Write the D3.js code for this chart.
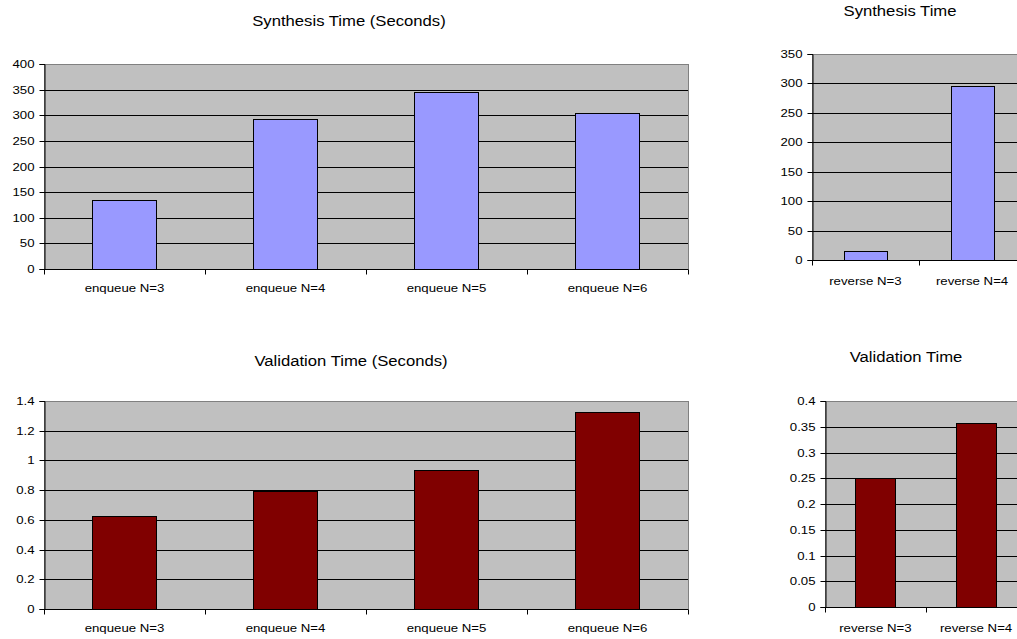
<!DOCTYPE html>
<html>
<head>
<meta charset="utf-8">
<script src="https://cdn.jsdelivr.net/npm/d3@7/dist/d3.min.js"></script>
<style>
  html, body { margin: 0; padding: 0; background: #ffffff; }
  svg { display: block; }
  text { font-family: "Liberation Sans", Arial, sans-serif; fill: #000; }
</style>
</head>
<body>
<svg id="chart" width="1017" height="639"></svg>
<script>
// Queue benchmarks: enqueue at N=3..6
const enqueueCategories = ["enqueue N=3", "enqueue N=4", "enqueue N=5", "enqueue N=6"];
const enqueueSynthesis = [134, 293, 345, 304];
const enqueueValidation = [0.627, 0.795, 0.938, 1.328];

// List benchmarks: reverse at N=3..4
const reverseCategories = ["reverse N=3", "reverse N=4"];
const reverseSynthesis = [15, 296];
const reverseValidation = [0.25, 0.358];

// Y-axis tick labels
const enqueueSynthesisTicks = [0, 50, 100, 150, 200, 250, 300, 350, 400];
const enqueueValidationTicks = [0, 0.2, 0.4, 0.6, 0.8, 1, 1.2, 1.4];
const reverseSynthesisTicks = [0, 50, 100, 150, 200, 250, 300, 350];
const reverseValidationTicks = [0, 0.05, 0.1, 0.15, 0.2, 0.25, 0.3, 0.35, 0.4];

const svg = d3.select("#chart");
const SX = 1.15; // horizontal text stretch

function stretchedText(g, x, y, str, size, anchor) {
  return g.append("text")
    .attr("transform", `translate(${x},${y}) scale(${SX},1)`)
    .attr("text-anchor", anchor)
    .style("font-size", size + "px")
    .text(str);
}

function drawPanel(opt) {
  const g = svg.append("g");
  const x = d3.scaleBand()
    .domain(opt.categories)
    .range([opt.left, opt.left + opt.step * opt.categories.length])
    .paddingInner(0.6)
    .paddingOuter(0.3);
  const y = d3.scaleLinear()
    .domain([0, d3.max(opt.ticks)])
    .range([opt.bottom, opt.top]);

  const x0 = x.range()[0], x1 = x.range()[1];
  const yTop = y(d3.max(opt.ticks));
  const yZero = y(0);

  // plot background
  g.append("rect")
    .attr("x", x0 + 0.5).attr("y", yTop + 0.5)
    .attr("width", x1 - x0).attr("height", yZero - yTop)
    .attr("fill", "#c0c0c0")
    .attr("stroke", "#808080")
    .attr("stroke-width", 1);

  // horizontal gridlines
  g.selectAll(".grid")
    .data(opt.ticks.filter(t => t > 0 && t < d3.max(opt.ticks)))
    .join("line")
    .attr("x1", x0).attr("x2", x1)
    .attr("y1", d => Math.round(y(d)) + 0.5)
    .attr("y2", d => Math.round(y(d)) + 0.5)
    .attr("stroke", "#000")
    .attr("stroke-width", 1);

  // bars
  g.selectAll(".bar")
    .data(opt.values)
    .join("rect")
    .attr("x", (d, i) => Math.round(x(opt.categories[i])) + 0.5)
    .attr("y", d => Math.round(y(d)) + 0.5)
    .attr("width", Math.round(x.bandwidth()))
    .attr("height", d => Math.round(yZero) - Math.round(y(d)))
    .attr("fill", opt.fill)
    .attr("stroke", "#000")
    .attr("stroke-width", 1);

  // y axis
  const yAxis = g.append("g")
    .attr("transform", `translate(${Math.round(x0) + 0.5},0)`)
    .call(d3.axisLeft(y).tickValues(opt.ticks).tickSize(5).tickPadding(5)
      .tickFormat(d => String(d)));
  yAxis.select(".domain").attr("stroke", "#000");
  yAxis.selectAll(".tick line").attr("stroke", "#000");
  yAxis.selectAll(".tick text").each(function () {
    const t = d3.select(this);
    t.attr("font-family", null).attr("font-size", null)
      .style("font-size", "11.5px")
      .attr("x", -10 / SX)
      .attr("transform", `scale(${SX},1)`);
  });
  yAxis.selectAll(".tick").attr("transform", d => `translate(0,${Math.round(y(d)) + 0.5})`);

  // x axis line with boundary ticks
  const base = Math.round(yZero) + 0.5;
  g.append("line")
    .attr("x1", x0).attr("x2", x1)
    .attr("y1", base).attr("y2", base)
    .attr("stroke", "#000");
  g.selectAll(".xtick")
    .data(d3.range(opt.categories.length + 1))
    .join("line")
    .attr("x1", i => Math.round(x0 + i * x.step()) + 0.5)
    .attr("x2", i => Math.round(x0 + i * x.step()) + 0.5)
    .attr("y1", base).attr("y2", base + 5)
    .attr("stroke", "#000");

  // category labels
  opt.categories.forEach(c => {
    stretchedText(g, x(c) + x.bandwidth() / 2, opt.labelY, c, 11.5, "middle");
  });

  // title
  stretchedText(g, opt.titleX, opt.titleY, opt.title, 14.5, "middle");
}

drawPanel({
  categories: enqueueCategories, values: enqueueSynthesis, ticks: enqueueSynthesisTicks,
  fill: "#9999ff", title: "Synthesis Time (Seconds)",
  left: 44, step: 161, top: 64, bottom: 269,
  titleX: 349, titleY: 26, labelY: 292
});
drawPanel({
  categories: enqueueCategories, values: enqueueValidation, ticks: enqueueValidationTicks,
  fill: "#800000", title: "Validation Time (Seconds)",
  left: 44, step: 161, top: 401, bottom: 609,
  titleX: 351, titleY: 366, labelY: 632
});
drawPanel({
  categories: reverseCategories, values: reverseSynthesis, ticks: reverseSynthesisTicks,
  fill: "#9999ff", title: "Synthesis Time",
  left: 812, step: 106.7, top: 54, bottom: 260,
  titleX: 900, titleY: 16, labelY: 285
});
drawPanel({
  categories: reverseCategories, values: reverseValidation, ticks: reverseValidationTicks,
  fill: "#800000", title: "Validation Time",
  left: 825, step: 100.7, top: 401, bottom: 607,
  titleX: 906, titleY: 362, labelY: 632
});
</script>
</body>
</html>
